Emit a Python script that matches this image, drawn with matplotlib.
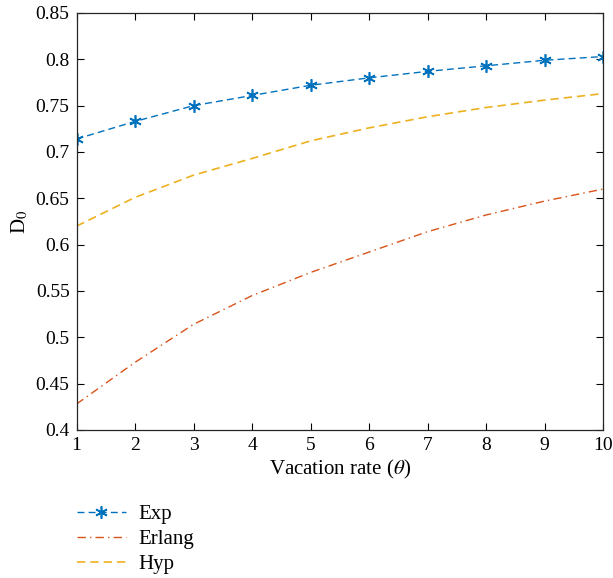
import matplotlib
matplotlib.use("Agg")
import matplotlib.pyplot as plt

theta = [1, 2, 3, 4, 5, 6, 7, 8, 9, 10]
exp_vals = [0.714, 0.733, 0.750, 0.761, 0.772, 0.780, 0.787, 0.793, 0.799, 0.803]
erlang_vals = [0.428, 0.473, 0.514, 0.545, 0.570, 0.592, 0.614, 0.632, 0.647, 0.660]
hyp_vals = [0.620, 0.651, 0.675, 0.693, 0.712, 0.726, 0.738, 0.748, 0.756, 0.763]
yticks = [0.4, 0.45, 0.5, 0.55, 0.6, 0.65, 0.7, 0.75, 0.8, 0.85]
ytick_labels = ["0.4", "0.45", "0.5", "0.55", "0.6", "0.65", "0.7", "0.75", "0.8", "0.85"]

plt.rcParams['font.family'] = ['Liberation Serif', 'DejaVu Serif']
plt.rcParams['mathtext.fontset'] = 'stix'

fig = plt.figure(figsize=(6.13, 5.78), dpi=100)
ax = fig.add_axes([76.5/613, 1 - 430/578, (603 - 76.5)/613, (430 - 13)/578])

ax.plot(theta, exp_vals, color='#0072BD', linestyle=(0, (5, 3)), lw=1.0,
        marker=(6, 2, 0), markersize=9, markeredgewidth=1.2, label='Exp')
ax.plot(theta, erlang_vals, color='#D95319', linestyle=(0, (6, 3, 1, 3)), lw=1.0, label='Erlang')
ax.plot(theta, hyp_vals, color='#EDB120', linestyle=(0, (5, 3)), lw=1.2, label='Hyp')

ax.set_xlim(1, 10)
ax.set_ylim(0.4, 0.85)
ax.set_xticks(theta)
ax.set_yticks(yticks)
ax.set_yticklabels(ytick_labels)
ax.tick_params(direction='in', top=True, right=True, labelsize=14, length=5, width=0.8, pad=5)
for s in ax.spines.values():
    s.set_linewidth(0.9)
    s.set_color('#262626')

ax.set_xlabel(r'Vacation rate ($\theta$)', fontsize=15, labelpad=3)
ax.set_ylabel(r'D$_0$', fontsize=15, labelpad=4)

fig.legend(loc='upper left', bbox_to_anchor=(58/613, 1 - 486/578), frameon=False,
           fontsize=15, handlelength=2.35, labelspacing=0.25, handletextpad=0.6)

fig.savefig('out.png', dpi=100)
